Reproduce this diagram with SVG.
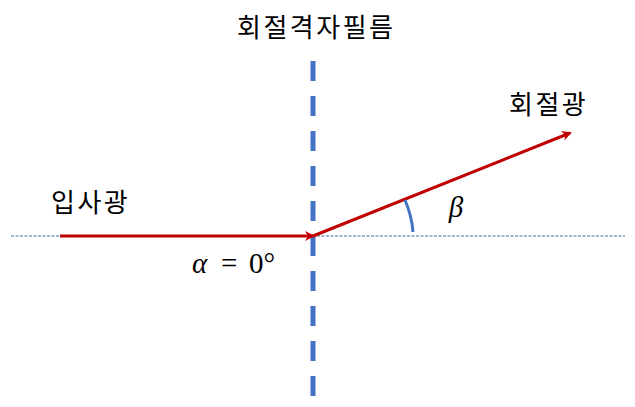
<svg xmlns="http://www.w3.org/2000/svg" width="635" height="407" viewBox="0 0 635 407">
<style>
.ko{font-family:"Noto Sans CJK KR","Noto Sans",sans-serif;font-size:26px;fill:#000}
.math{font-family:"Liberation Serif","DejaVu Serif",serif;font-size:29px;fill:#000}
.ray{stroke:#C00000;stroke-width:3;fill:none}
</style>
<defs>
<marker id="ah" markerWidth="10" markerHeight="10" refX="8" refY="5" orient="auto" markerUnits="userSpaceOnUse" viewBox="0 0 10 10">
<path d="M0,0 L10,5 L0,10 L3,5 Z" fill="#C00000"/>
</marker>
</defs>
<rect width="635" height="407" fill="#fff"/>
<g id="connectors">
<line x1="11" y1="236" x2="625" y2="236" stroke="#41719C" stroke-width="1" stroke-dasharray="3,1.5"/>
<line id="grating" x1="313" y1="61" x2="313" y2="396" stroke="#4472C4" stroke-width="5" stroke-dasharray="20,15"/>
<line id="incident" class="ray" x1="60" y1="236" x2="313" y2="236" marker-end="url(#ah)"/>
<line id="diffracted" class="ray" x1="313" y1="236" x2="570" y2="133" marker-end="url(#ah)"/>
<path id="angle" d="M405,200 A100,100 0 0 1 413,232" stroke="#4472C4" stroke-width="3" fill="none"/>
</g>
<g id="label-grating"><text class="ko" x="237" y="37" font-size="27" letter-spacing="2.5">회절격자필름</text></g>
<g id="label-diffracted"><text class="ko" x="509" y="114" letter-spacing="2.5">회절광</text></g>
<g id="label-incident"><text class="ko" x="51" y="212" letter-spacing="2.5">입사광</text></g>
<g id="label-alpha"><text class="math" y="273"><tspan x="192" font-style="italic">α</tspan><tspan x="221">=</tspan><tspan x="249">0°</tspan></text></g>
<g id="label-beta"><text class="math" x="456" y="217" text-anchor="middle" font-style="italic">β</text></g>
</svg>
